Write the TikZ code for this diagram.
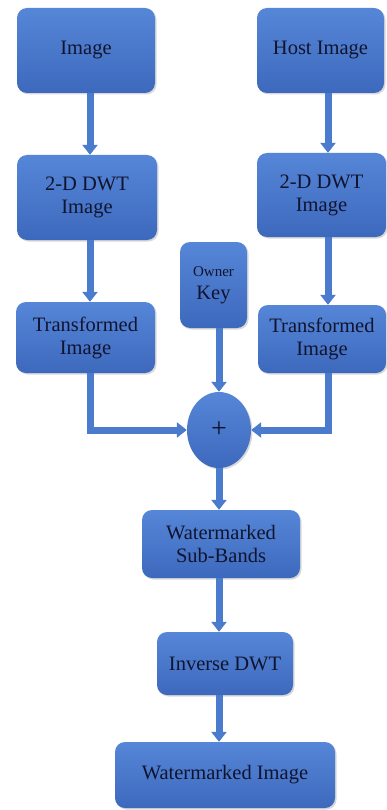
\documentclass[tikz,border=0pt]{standalone}
\usepackage{fontspec}
\setmainfont{Liberation Serif}
\newfontfamily\boxfont{Liberation Serif}
\usetikzlibrary{arrows.meta,shadows,shapes.geometric}
\definecolor{boxtop}{HTML}{5686D8}
\definecolor{boxbot}{HTML}{3D69BD}
\definecolor{arrowblue}{HTML}{4B7BCC}
\definecolor{ink}{HTML}{10142E}
\tikzset{
  blk/.style={rounded corners=10pt, top color=boxtop, bottom color=boxbot,
    draw=none, text=ink, align=center, inner sep=2pt,
    font=\boxfont\fontsize{20.5}{23}\selectfont,
    drop shadow={opacity=0.3, shadow xshift=1.5pt, shadow yshift=-1.5pt}},
  sum/.style={ellipse, top color=boxtop, bottom color=boxbot, draw=none,
    text=ink, minimum width=64pt, minimum height=76pt, inner sep=0pt,
    font=\boxfont\fontsize{28}{28}\selectfont,
    drop shadow={opacity=0.3, shadow xshift=1.5pt, shadow yshift=-1.5pt}},
  arr/.style={draw=arrowblue, line width=7pt,
    -{Triangle[width=15pt,length=10pt]}}
}
\begin{document}
\begin{tikzpicture}[x=1pt,y=-1pt]
  \useasboundingbox[fill=white] (0,0) rectangle (386,810);

  % left column
  \node[blk, minimum width=138pt, minimum height=85pt] (img) at (86,50.5) {Image};
  \node[blk, minimum width=140pt, minimum height=85pt] (dwtl) at (87,197.5) {2-D DWT\\Image};
  \node[blk, minimum width=139pt, minimum height=71pt] (trl) at (85.5,337.5) {Transformed\\Image};

  % right column
  \node[blk, minimum width=127pt, minimum height=85pt] (host) at (320.5,50.5) {Host Image};
  \node[blk, minimum width=129pt, minimum height=84pt] (dwtr) at (321.5,195) {2-D DWT\\Image};
  \node[blk, minimum width=128pt, minimum height=68pt] (trr) at (322,339) {Transformed\\Image};

  % key and combiner
  \node[blk, minimum width=67pt, minimum height=86pt] (key) at (213.5,285)
    {{\fontsize{15}{16}\selectfont Owner}\\Key};
  \node[sum] (plus) at (219,430) {+};

  % output chain
  \node[blk, minimum width=158pt, minimum height=68pt] (wsb) at (221,544) {Watermarked\\Sub-Bands};
  \node[blk, minimum width=136pt, minimum height=63pt] (inv) at (225,663.5) {Inverse DWT};
  \node[blk, minimum width=220pt, minimum height=66pt] (wimg) at (225,775) {Watermarked Image};

  % connectors
  \draw[arr] ([xshift=4pt]img.south) -- ([xshift=3pt]dwtl.north);
  \draw[arr] ([xshift=3pt]dwtl.south) -- ([xshift=4.5pt]trl.north);
  \draw[arr] ([xshift=7.5pt]host.south) -- ([xshift=6.5pt]dwtr.north);
  \draw[arr] ([xshift=6.5pt]dwtr.south) -- ([xshift=6pt]trr.north);
  \draw[arr] (key.south -| plus.north) -- (plus.north);
  \draw[arr] ([xshift=4.5pt]trl.south) |- (plus.west);
  \draw[arr] ([xshift=6pt]trr.south) |- (plus.east);
  \draw[arr] (plus.south) -- (wsb.north -| plus.south);
  \draw[arr] (wsb.south -| plus.south) -- (inv.north -| plus.south);
  \draw[arr] (inv.south -| plus.south) -- (wimg.north -| plus.south);
\end{tikzpicture}
\end{document}
